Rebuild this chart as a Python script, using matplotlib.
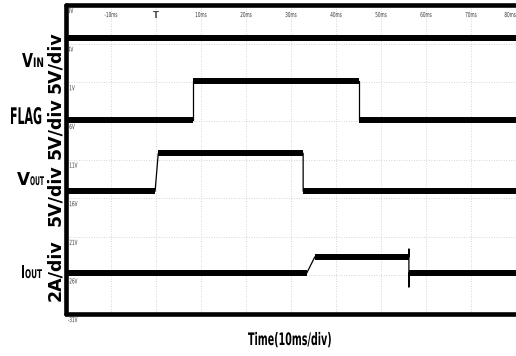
import matplotlib
matplotlib.use("Agg")
import matplotlib.pyplot as plt
from matplotlib.patheffects import AbstractPathEffect
from matplotlib.transforms import Affine2D

# trace breakpoints: time (ms) and level (V on screen scale)
vin_t = [-20, 80]
vin_v = [4.7, 4.7]

flag_t = [-20, 8.2, 8.2, 45.1, 45.1, 80]
flag_v = [-5.9, -5.9, -0.9, -0.9, -5.9, -5.9]

vout_t = [-20, -0.2, 0.5, 32.7, 32.7, 80]
vout_v = [-15.1, -15.1, -10.2, -10.2, -15.1, -15.1]

iout_t = [-20, 33.5, 35.3, 56.2, 56.2, 56.2, 56.2, 80]
iout_v = [-25.7, -25.7, -23.6, -23.6, -22.6, -27.5, -25.7, -25.7]

time_ticks = [-10, 10, 20, 30, 40, 50, 60, 70, 80]
volt_ticks = [9, 4, -1, -6, -11, -16, -21, -26, -31]


class Squeeze(AbstractPathEffect):
    # squeeze glyphs sideways around x0 (display px) -> condensed look
    def __init__(self, sx, x0):
        super().__init__()
        self.tr = Affine2D().translate(-x0, 0).scale(sx, 1).translate(x0, 0)

    def draw_path(self, renderer, gc, tpath, affine, rgbFace=None):
        renderer.draw_path(gc, tpath, affine + self.tr, rgbFace)


fig = plt.figure(figsize=(5.16, 3.56), dpi=100)
renderer = fig.canvas.get_renderer()
ax = fig.add_axes([66 / 516, 1 - 314 / 356, 1 - 66 / 516, 309 / 356])
ax.set_xlim(-20, 80)
ax.set_ylim(-31, 9)


def squeeze(t, sx=None, width=None):
    bb = t.get_window_extent(renderer)
    ha = t.get_ha()
    x0 = {"left": bb.x0, "right": bb.x1, "center": (bb.x0 + bb.x1) / 2}[ha]
    if width is not None:
        sx = width / bb.width
    t.set_path_effects([Squeeze(sx, x0)])


# grid
for t in range(-10, 80, 10):
    ax.axvline(t, color="#c8c8c8", lw=0.6, ls=(0, (1, 2)), zorder=0)
for v in volt_ticks[1:-1]:
    ax.axhline(v, color="#c8c8c8", lw=0.6, ls=(0, (1, 2)), zorder=0)

# traces: thin edges, thick flat parts
for tt, vv in [(vin_t, vin_v), (flag_t, flag_v), (vout_t, vout_v), (iout_t, iout_v)]:
    ax.plot(tt, vv, color="black", lw=0.9, zorder=2)
    for i in range(len(tt) - 1):
        if vv[i] == vv[i + 1] and tt[i] != tt[i + 1]:
            ax.plot(tt[i:i + 2], vv[i:i + 2], color="black", lw=4.3,
                    solid_capstyle="butt", zorder=3)

# scope labels inside the screen
for v in volt_ticks:
    t = ax.text(-19.6, v - 0.4, f"{v}V", fontsize=5, color="#333333",
                va="top", ha="left")
    squeeze(t, sx=0.6)
for tm in time_ticks:
    t = ax.text(tm, 7.7, f"{tm}ms", fontsize=5, color="#333333",
                va="center", ha="right" if tm == 80 else "center")
    squeeze(t, sx=0.6)
ax.text(0, 7.6, "T", fontsize=6, color="#444444", va="center", ha="center",
        fontweight="bold")

ax.set_xticks([])
ax.set_yticks([])
for s in ["left", "top", "bottom"]:
    ax.spines[s].set_linewidth(3.3)
    ax.spines[s].set_capstyle("round")
ax.spines["right"].set_visible(False)


def fx(px):
    return px / 516


def fy(py):
    return 1 - py / 356


def narrow(x, y, s, size, width, ha="left"):
    t = fig.text(fx(x), fy(y), s, fontsize=size, ha=ha, va="baseline",
                 fontweight="bold")
    squeeze(t, width=width)


# channel names (big letter + small caps)
narrow(33, 67, "V", 13.8, 11, ha="right")
narrow(33, 67, "IN", 9.4, 11)
narrow(42, 124, "FLAG", 16.5, 32, ha="right")
narrow(30, 185, "V", 12.8, 13, ha="right")
narrow(30, 185, "OUT", 8.6, 14)
narrow(25, 278, "I", 12.8, 4, ha="right")
narrow(25, 278, "OUT", 8.6, 17)

for py, txt in [(62, "5V/div"), (128, "5V/div"), (195, "5V/div"), (270, "2A/div")]:
    fig.text(fx(55), fy(py), txt, fontsize=12.5, fontweight="bold", rotation=90,
             ha="center", va="center")

narrow(248, 345, "Time(10ms/div)", 12.4, 84)

fig.savefig("out.png", dpi=100)
